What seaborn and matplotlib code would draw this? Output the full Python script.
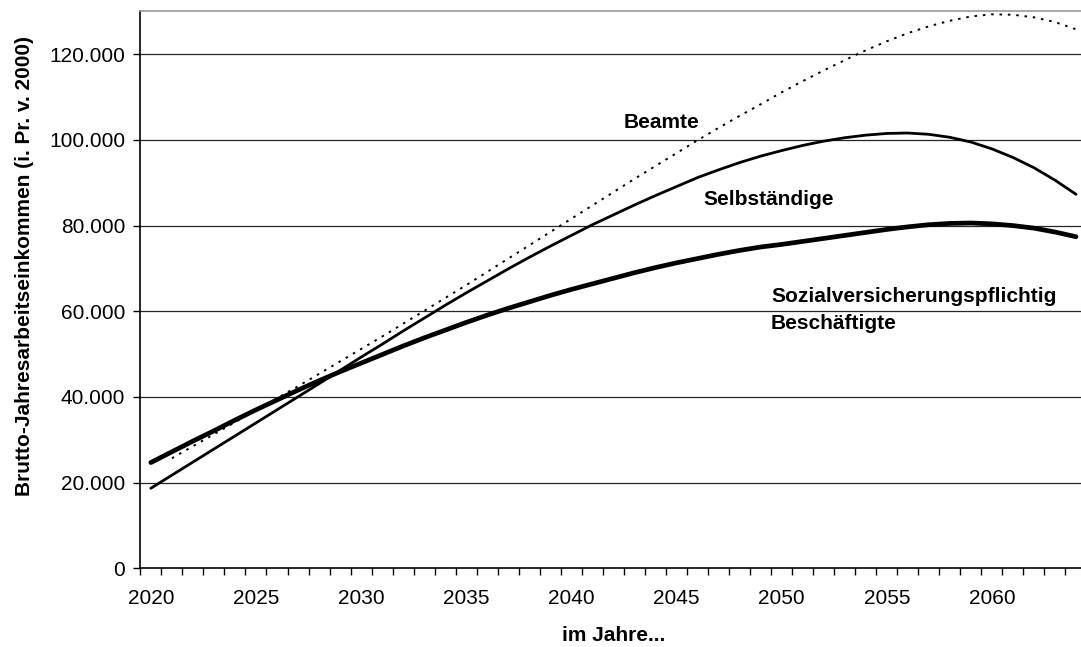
import numpy as np
import pandas as pd
import matplotlib
matplotlib.use("Agg")
import matplotlib.pyplot as plt
import seaborn as sns
from matplotlib.ticker import FixedLocator, FuncFormatter

# Jahre
jahre = list(range(2020, 2065))

# Sozialversicherungspflichtig Beschäftigte (dicke Linie)
sv_beschaeftigte = [24700, 27200, 29700, 32100, 34600, 37000, 39300, 41600, 43800, 45900,
                    47900, 49900, 51900, 53800, 55600, 57400, 59100, 60700, 62200, 63700,
                    65100, 66400, 67700, 69000, 70200, 71300, 72300, 73300, 74200, 75000,
                    75600, 76300, 77000, 77700, 78400, 79100, 79700, 80200, 80500, 80600,
                    80400, 80000, 79400, 78500, 77400]

# Selbständige (dünne Linie)
selbstaendige = [18700, 21750, 24800, 27850, 30900, 33950, 37000, 40050, 43100, 46200,
                 49300, 52300, 55400, 58400, 61400, 64300, 67100, 69900, 72600, 75200,
                 77700, 80200, 82500, 84800, 87000, 89100, 91200, 93000, 94700, 96200,
                 97500, 98700, 99700, 100500, 101100, 101500, 101600, 101300, 100600, 99500,
                 97900, 95900, 93500, 90600, 87300]

# Beamte (gepunktet), erst ab 2021
beamte = [np.nan, 25700, 28500, 31300, 34100, 36900, 39700, 42500, 45400, 48300,
          51200, 54100, 57100, 60100, 63100, 66100, 69200, 72300, 75400, 78500,
          81600, 84700, 87800, 90900, 93900, 96900, 99900, 102800, 105600, 108300,
          111100, 113700, 116200, 118600, 120900, 123000, 124900, 126500, 127800, 128800,
          129300, 129200, 128600, 127500, 125800]

y_ticks = [0, 20000, 40000, 60000, 80000, 100000, 120000]
x_labels = [2020, 2025, 2030, 2035, 2040, 2045, 2050, 2055, 2060]

df = pd.DataFrame({"Jahr": jahre, "SV": sv_beschaeftigte,
                   "Selbst": selbstaendige, "Beamte": beamte})

sns.set_style("white")
plt.rcParams["font.family"] = ["Liberation Sans", "DejaVu Sans"]
plt.rcParams["text.color"] = "black"
plt.rcParams["axes.labelcolor"] = "black"
plt.rcParams["xtick.color"] = "black"
plt.rcParams["ytick.color"] = "black"

fig = plt.figure(figsize=(10.81, 6.47), dpi=100)
ax = fig.add_axes([0.1298, 0.1215, 0.8753, 0.8610])

sns.lineplot(data=df, x="Jahr", y="Beamte", ax=ax, color="black", lw=1.4,
             linestyle=(0, (1.3, 3.0)))
sns.lineplot(data=df, x="Jahr", y="Selbst", ax=ax, color="black", lw=2.0)
sns.lineplot(data=df, x="Jahr", y="SV", ax=ax, color="black", lw=3.4)

ax.set_xlim(2019.5, 2064.5)
ax.set_ylim(0, 130000)

# Gitterlinien
for v in y_ticks[1:]:
    ax.axhline(v, color="#262626", lw=0.9, zorder=0)

ax.yaxis.set_major_locator(FixedLocator(y_ticks))
ax.yaxis.set_major_formatter(FuncFormatter(lambda v, p: f"{int(v):,}".replace(",", ".")))
ax.xaxis.set_major_locator(FixedLocator(x_labels))
ax.xaxis.set_major_formatter(FuncFormatter(lambda v, p: f"{int(v)}"))
ax.xaxis.set_minor_locator(FixedLocator(np.arange(2019.5, 2065, 1.0)))

ax.tick_params(axis="x", which="major", length=0, pad=15, labelsize=15)
ax.tick_params(axis="x", which="minor", length=5, width=1, direction="out", color="black")
ax.tick_params(axis="y", which="major", length=5, width=1, direction="out", pad=6,
               labelsize=15, color="black")
ax.tick_params(left=True, bottom=True, which="both")

for s in ["left", "bottom"]:
    ax.spines[s].set_color("black")
    ax.spines[s].set_linewidth(1.2)
for s in ["top", "right"]:
    ax.spines[s].set_color("#999999")
    ax.spines[s].set_linewidth(1.2)

ax.set_xlabel("im Jahre...", fontsize=15, fontweight="bold")
ax.set_ylabel("Brutto-Jahresarbeitseinkommen (i. Pr. v. 2000)", fontsize=15, fontweight="bold")
ax.xaxis.set_label_coords(0.5, -0.1196)
ax.xaxis.label.set_va("center")
ax.yaxis.set_label_coords(-0.1222, 0.542)
ax.yaxis.label.set_va("center")
ax.yaxis.label.set_ha("center")

ax.text(2042.5, 104000, "Beamte", fontsize=15, fontweight="bold", va="center", ha="left")
ax.text(2046.3, 86000, "Selbständige", fontsize=15, fontweight="bold", va="center", ha="left")
ax.text(2049.5, 63400, "Sozialversicherungspflichtig", fontsize=15, fontweight="bold",
        va="center", ha="left")
ax.text(2049.5, 57200, "Beschäftigte", fontsize=15, fontweight="bold", va="center", ha="left")

fig.savefig("out.png", dpi=100)
